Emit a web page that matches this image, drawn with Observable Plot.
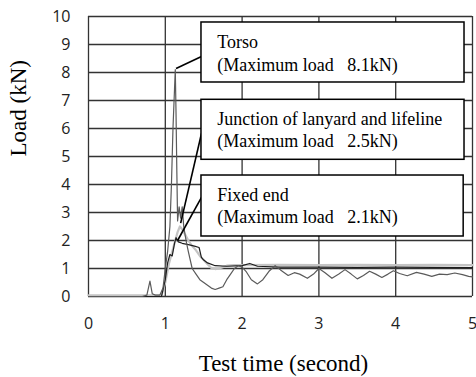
<!DOCTYPE html>
<html>
<head>
<meta charset="utf-8">
<script src="https://cdn.jsdelivr.net/npm/d3@7"></script>
<script src="https://cdn.jsdelivr.net/npm/@observablehq/plot@0.6"></script>
<style>
  html, body { margin: 0; padding: 0; background: #fff; }
</style>
</head>
<body>
<div id="chart"></div>
<script>
// ---- Data ----
const xTicks = [0, 1, 2, 3, 4, 5];
const yTicks = [0, 1, 2, 3, 4, 5, 6, 7, 8, 9, 10];

const torsoTime = [0, 0.7, 0.76, 0.8, 0.83, 0.87, 0.93, 0.97, 1.0, 1.03, 1.06, 1.08, 1.1, 1.12, 1.13, 1.14, 1.15, 1.16, 1.18, 1.2, 1.22, 1.24, 1.27, 1.3, 1.35, 1.4, 1.45, 1.5, 1.55, 1.6, 1.65, 1.7, 1.75, 1.8, 1.85, 1.9, 1.95, 2.0, 2.05, 2.12, 2.2, 2.27, 2.35, 2.43, 2.5, 2.6, 2.68, 2.75, 2.85, 2.93, 3.0, 3.08, 3.17, 3.26, 3.34, 3.42, 3.5, 3.58, 3.66, 3.74, 3.82, 3.9, 3.97, 4.05, 4.15, 4.27, 4.37, 4.47, 4.57, 4.67, 4.77, 4.87, 4.95, 5.0];
const torsoLoad = [0, 0, 0.05, 0.55, 0.1, 0.05, 0.05, 0.3, 1.0, 1.6, 2.5, 4.0, 6.0, 7.4, 8.1, 6.5, 4.5, 2.7, 3.2, 2.8, 3.2, 2.5, 2.0, 1.6, 1.0, 0.8, 0.6, 0.5, 0.4, 0.3, 0.25, 0.3, 0.35, 0.6, 0.8, 1.0, 1.1, 1.05, 0.9, 0.6, 0.45, 0.6, 0.9, 1.1, 0.95, 0.75, 0.85, 0.8, 0.65, 0.8, 1.0, 0.85, 0.65, 0.8, 0.96, 0.8, 0.63, 0.75, 0.9, 0.8, 0.68, 0.8, 0.92, 0.82, 0.74, 0.86, 0.8, 0.72, 0.8, 0.78, 0.84, 0.78, 0.72, 0.7];

const junctionTime = [0, 0.95, 1.0, 1.05, 1.1, 1.13, 1.16, 1.19, 1.22, 1.26, 1.3, 1.35, 1.4, 1.45, 1.5, 1.55, 1.6, 1.65, 1.7, 1.75, 1.8, 1.9, 2.0, 2.5, 3.0, 3.5, 4.0, 4.5, 5.0];
const junctionLoad = [0.04, 0.04, 0.5, 1.2, 1.7, 2.0, 2.3, 2.5, 2.4, 2.2, 2.0, 1.8, 1.65, 1.45, 1.3, 1.15, 1.02, 0.98, 1.0, 1.05, 1.1, 1.12, 1.12, 1.13, 1.12, 1.13, 1.12, 1.13, 1.12];

const fixedTime = [0, 0.95, 1.0, 1.03, 1.06, 1.09, 1.12, 1.14, 1.17, 1.22, 1.3, 1.38, 1.44, 1.47, 1.5, 1.55, 1.65, 1.8, 2.0, 2.1, 2.2, 2.5, 3.0, 3.5, 4.0, 4.5, 5.0];
const fixedLoad = [0, 0, 0.6, 1.2, 1.5, 1.45, 1.9, 2.1, 1.95, 1.9, 1.85, 1.8, 1.75, 1.4, 1.3, 1.2, 1.1, 1.08, 1.1, 1.18, 1.08, 1.05, 1.05, 1.04, 1.05, 1.04, 1.03];

// Annotation texts
const noteLine1 = ["Torso", "Junction of lanyard and lifeline", "Fixed end"];
const noteLine2 = ["(Maximum load\u00a0\u00a0 8.1kN)", "(Maximum load\u00a0\u00a0 2.5kN)", "(Maximum load\u00a0\u00a0 2.1kN)"];

// ---- Layout of annotations (data coordinates) ----
const boxX1 = [1.471, 1.471, 1.471];
const boxX2 = [4.896, 4.896, 4.885];
const boxTop = [9.786, 7.025, 4.321];
const boxBottom = [7.643, 4.882, 2.143];
const textX = [1.676, 1.676, 1.676];
const line1Y = [9.07, 6.32, 3.61];
const line2Y = [8.25, 5.54, 2.82];
const leaderX1 = [1.471, 1.471, 1.471];
const leaderY1 = [8.57, 5.82, 3.54];
const leaderX2 = [1.14, 1.2, 1.16];
const leaderY2 = [8.14, 2.62, 2.0];

const toRows = (ts, vs) => ts.map((t, i) => ({t, v: vs[i]}));
const torso = toRows(torsoTime, torsoLoad);
const junction = toRows(junctionTime, junctionLoad);
const fixedEnd = toRows(fixedTime, fixedLoad);

const notes = noteLine1.map((l1, i) => ({
  l1, l2: noteLine2[i],
  x1: boxX1[i], x2: boxX2[i], y1: boxBottom[i], y2: boxTop[i],
  tx: textX[i], ty1: line1Y[i], ty2: line2Y[i],
  lx1: leaderX1[i], ly1: leaderY1[i], lx2: leaderX2[i], ly2: leaderY2[i]
}));

const serif = "'Liberation Serif', 'Times New Roman', serif";
const sans = "'Open Sans', 'Noto Sans', sans-serif";
const gridColor = "#333333";

const chart = Plot.plot({
  width: 476,
  height: 377,
  marginLeft: 88,
  marginRight: 4,
  marginTop: 16,
  marginBottom: 81,
  x: {domain: [0, 5]},
  y: {domain: [0, 10]},
  style: {background: "#fff", fontFamily: sans, fontSize: "16px", color: "#222"},
  marks: [
    Plot.ruleX(xTicks, {stroke: gridColor, strokeWidth: 1.3}),
    Plot.ruleY(yTicks, {stroke: gridColor, strokeWidth: 1.3}),
    Plot.line(junction, {x: "t", y: "v", stroke: "#c4c4c4", strokeWidth: 2.2}),
    Plot.line(fixedEnd, {x: "t", y: "v", stroke: "#1e1e1e", strokeWidth: 1.2}),
    Plot.line(torso, {x: "t", y: "v", stroke: "#5a5a5a", strokeWidth: 1.2}),
    Plot.axisX(xTicks, {tickSize: 0, tickPadding: 21, label: null, fontSize: 16, fontFamily: sans, fill: "#222"}),
    Plot.axisY(yTicks, {tickSize: 0, tickPadding: 18, label: null, fontSize: 16, fontFamily: sans, fill: "#222"}),
    Plot.link(notes, {x1: "lx1", y1: "ly1", x2: "lx2", y2: "ly2", stroke: "#000", strokeWidth: 1.6}),
    Plot.rect(notes, {x1: "x1", x2: "x2", y1: "y1", y2: "y2", fill: "#fff", stroke: "#000", strokeWidth: 1.5}),
    Plot.text(notes, {x: "tx", y: "ty1", text: "l1", textAnchor: "start", lineAnchor: "middle", fontFamily: serif, fontSize: 18, fill: "#000"}),
    Plot.text(notes, {x: "tx", y: "ty2", text: "l2", textAnchor: "start", lineAnchor: "middle", fontFamily: serif, fontSize: 18, fill: "#000"}),
    Plot.text(["Test time (second)"], {text: d => d, frameAnchor: "bottom", dy: 67, dx: 3, lineAnchor: "middle", fontFamily: serif, fontSize: 23, fill: "#000"}),
    Plot.text(["Load (kN)"], {text: d => d, frameAnchor: "left", dx: -70, rotate: -90, lineAnchor: "middle", fontFamily: serif, fontSize: 23, fill: "#000"})
  ]
});

document.getElementById("chart").appendChild(chart);
</script>
</body>
</html>
